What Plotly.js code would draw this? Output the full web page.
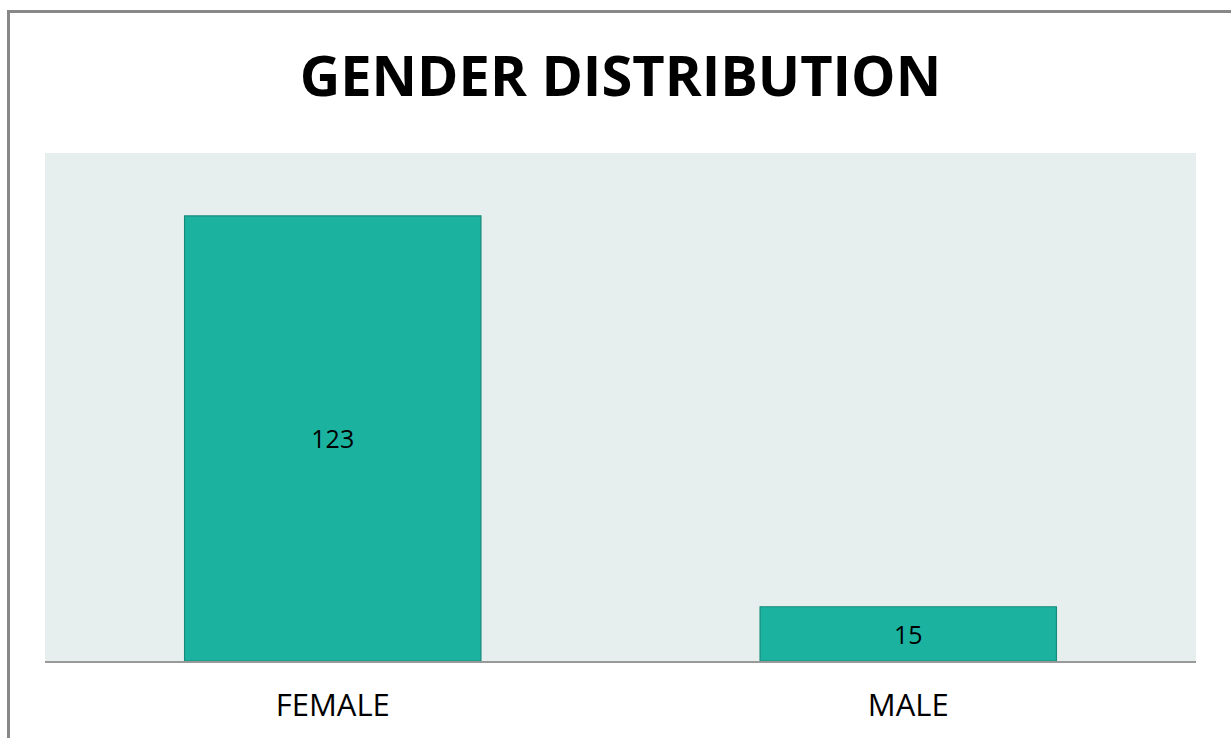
<!DOCTYPE html>
<html>
<head>
<meta charset="utf-8">
<script src="https://cdn.plot.ly/plotly-3.0.1.min.js"></script>
<style>
  html, body { margin: 0; padding: 0; background: #fff; }
  #chart { position: absolute; left: 0; top: 0; width: 1231px; height: 738px; }
  #frame { position: absolute; left: 7px; top: 10px; width: 1240px; height: 740px;
           border-left: 3px solid #888; border-top: 3px solid #888; pointer-events: none; }
</style>
</head>
<body>
<div id="chart"></div>
<div id="frame"></div>
<script>
const categories = ["FEMALE", "MALE"];
const counts = [123, 15];

const trace = {
  type: "bar",
  x: categories,
  y: counts,
  text: counts.map(String),
  textposition: "inside",
  insidetextanchor: "middle",
  textfont: { family: "Open Sans", size: 25, color: "#000" },
  marker: { color: "#1bb3a0", line: { color: "#168a7b", width: 1.2 } },
  hoverinfo: "x+y"
};

const layout = {
  width: 1231,
  height: 738,
  paper_bgcolor: "#ffffff",
  plot_bgcolor: "#e6efee",
  margin: { l: 45, r: 35, t: 153, b: 77 },
  bargap: 0.485,
  showlegend: false,
  title: {
    text: "<b>GENDER DISTRIBUTION</b>",
    font: { family: "Open Sans", size: 56, color: "#000" },
    x: 0.504, xanchor: "center",
    yref: "container", y: 0.897, yanchor: "middle"
  },
  xaxis: {
    type: "category",
    showline: true, linecolor: "#999", linewidth: 2,
    showgrid: false, zeroline: false,
    ticks: "outside", ticklen: 16, tickcolor: "rgba(0,0,0,0)",
    tickfont: { family: "Open Sans", size: 31, color: "#000" }
  },
  yaxis: {
    range: [0, 140.4],
    visible: false,
    showgrid: false, zeroline: false
  }
};

Plotly.newPlot("chart", [trace], layout, { displayModeBar: false, staticPlot: true });
</script>
</body>
</html>
